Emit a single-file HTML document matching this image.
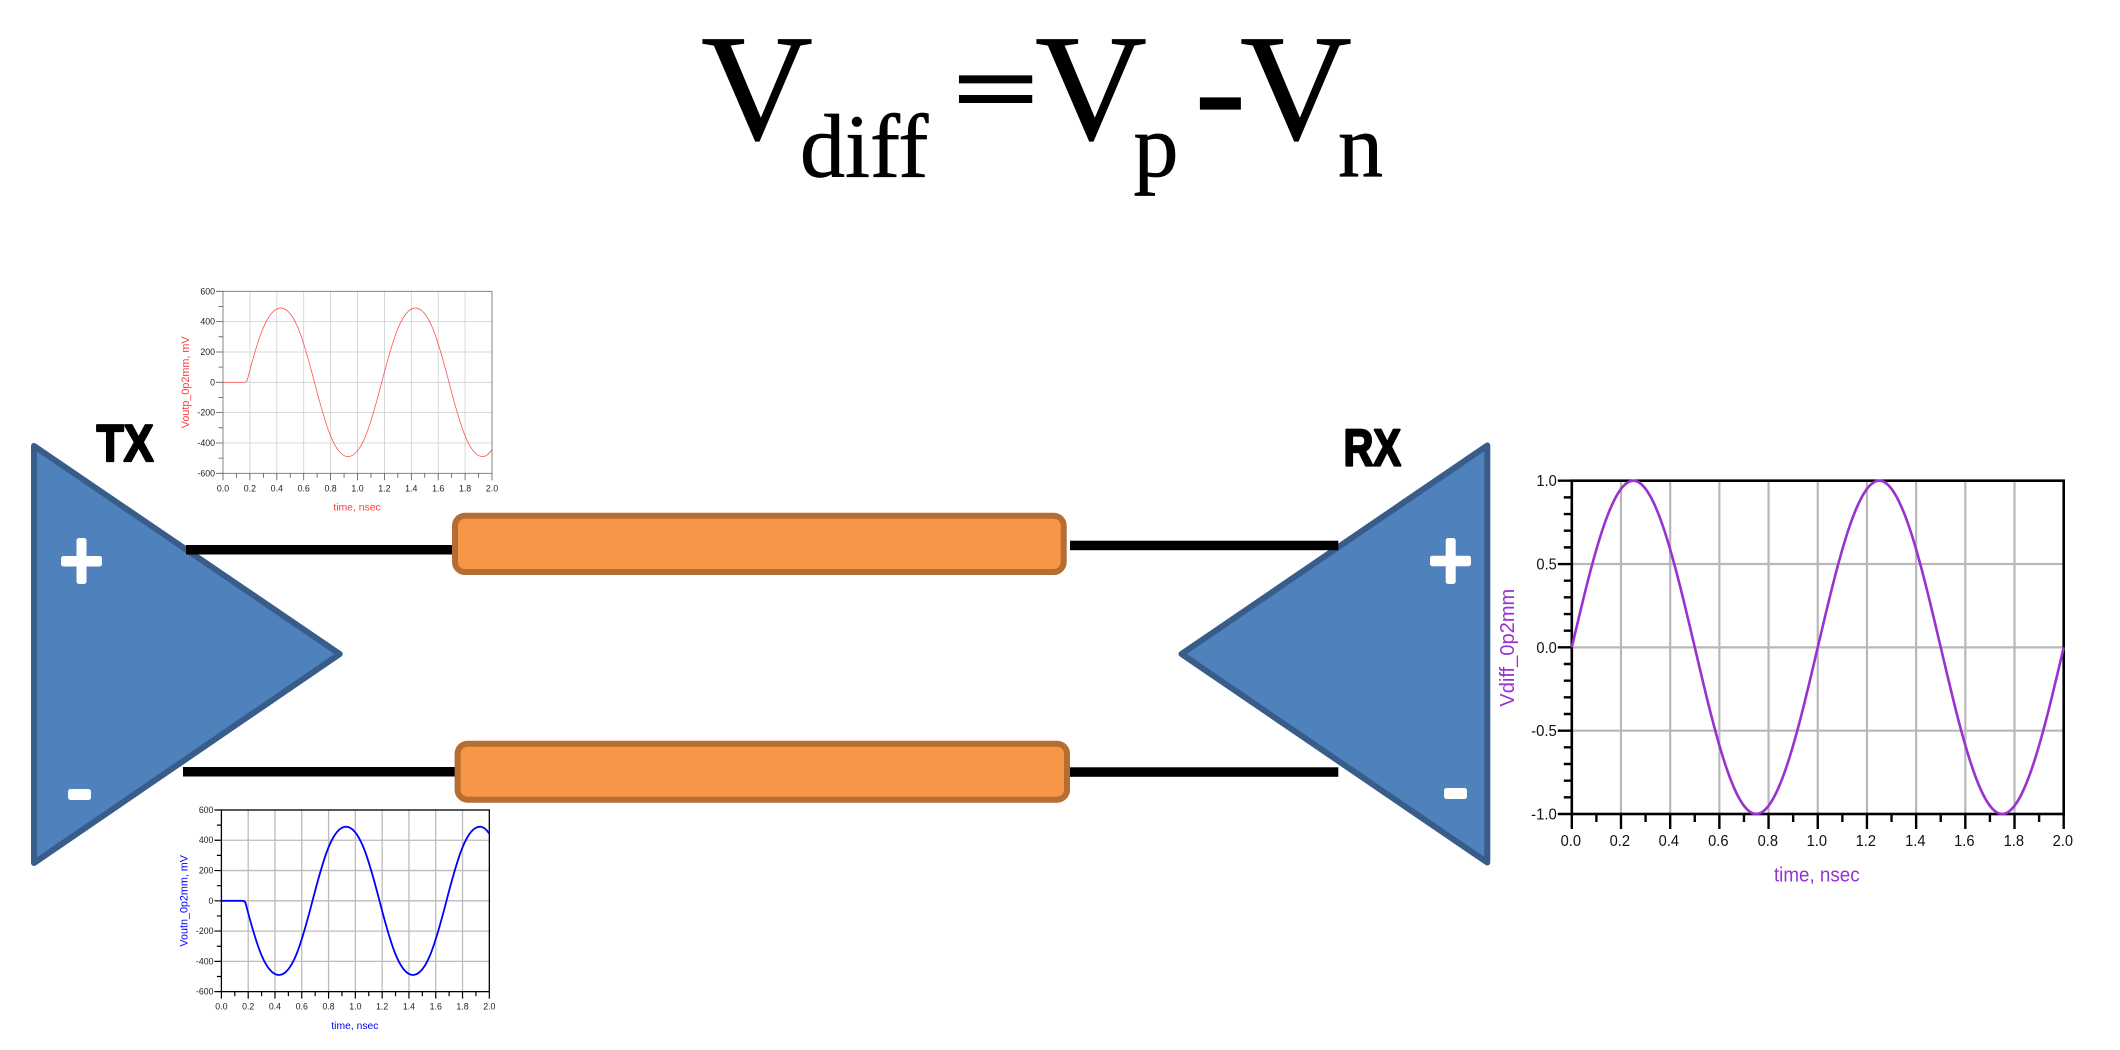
<!DOCTYPE html>
<html><head><meta charset="utf-8"><title>Vdiff</title>
<style>html,body{margin:0;padding:0;background:#fff;width:2120px;height:1050px;overflow:hidden}svg{display:block}
.s{font-family:"Liberation Serif",serif;fill:#000;stroke:#000;stroke-width:.7}
.a{font-family:"Liberation Sans",sans-serif}
.tx{font-family:"Liberation Sans",sans-serif;font-weight:bold;font-size:52px;fill:#000;stroke:#000;stroke-width:2.2;stroke-linejoin:round}
</style></head><body>
<svg width="2120" height="1050" viewBox="0 0 2120 1050" xmlns="http://www.w3.org/2000/svg">
<defs>
<path id="xM" d="M0,182v7M26.9,182v7M53.8,182v7M80.7,182v7M107.6,182v7M134.5,182v7M161.4,182v7M188.3,182v7M215.2,182v7M242.1,182v7M269,182v7M13.45,182v4.5M40.35,182v4.5M67.25,182v4.5M94.15,182v4.5M121.05,182v4.5M147.95,182v4.5M174.85,182v4.5M201.75,182v4.5M228.65,182v4.5M255.55,182v4.5M0,0h-7M0,30.33h-7M0,60.67h-7M0,91h-7M0,121.33h-7M0,151.67h-7M0,182h-7M0,15.17h-4.5M0,45.5h-4.5M0,75.83h-4.5M0,106.17h-4.5M0,136.5h-4.5M0,166.83h-4.5"/>
<path id="gr" d="M26.9,0V182M53.8,0V182M80.7,0V182M107.6,0V182M134.5,0V182M161.4,0V182M188.3,0V182M215.2,0V182M242.1,0V182M0,30.33H269M0,60.67H269M0,91H269M0,121.33H269M0,151.67H269"/>
<g id="lb" font-family="Liberation Sans, sans-serif" font-size="8.8" fill="#222">
<g text-anchor="end"><text x="-8" y="3">600</text><text x="-8" y="33.3">400</text><text x="-8" y="63.7">200</text><text x="-8" y="94">0</text><text x="-8" y="124.3">-200</text><text x="-8" y="154.7">-400</text><text x="-8" y="185">-600</text></g>
<g text-anchor="middle"><text x="0" y="200">0.0</text><text x="26.9" y="200">0.2</text><text x="53.8" y="200">0.4</text><text x="80.7" y="200">0.6</text><text x="107.6" y="200">0.8</text><text x="134.5" y="200">1.0</text><text x="161.4" y="200">1.2</text><text x="188.3" y="200">1.4</text><text x="215.2" y="200">1.6</text><text x="242.1" y="200">1.8</text><text x="269" y="200">2.0</text></g>
</g>
</defs>

<!-- equation -->
<text class="s" transform="translate(701,139) scale(1.02,1)" font-size="152">V</text>
<text class="s" x="800" y="176.7" font-size="90">diff</text>
<text class="s" transform="translate(954,121.6) scale(.95,.63)" font-size="155" style="stroke-width:5">=</text>
<text class="s" transform="translate(1035,139) scale(1.02,1)" font-size="152">V</text>
<text class="s" x="1133.5" y="176.7" font-size="90">p</text>
<text class="s" x="1194.5" y="140" font-size="155">-</text>
<text class="s" transform="translate(1240,139) scale(1.02,1)" font-size="152">V</text>
<text class="s" x="1338" y="176.7" font-size="90">n</text>

<!-- triangles -->
<polygon points="34,446 34,863 339.7,654" fill="#4f81bd" stroke="#385d8a" stroke-width="6" stroke-linejoin="round"/>
<polygon points="1487.3,445.5 1487.3,862.5 1181.5,654" fill="#4f81bd" stroke="#385d8a" stroke-width="6" stroke-linejoin="round"/>

<!-- signs -->
<rect x="61" y="556" width="41" height="10.5" rx="2.5" fill="#fff"/><rect x="76.5" y="538" width="10" height="46" rx="2.5" fill="#fff"/>
<rect x="68" y="789" width="23" height="11" rx="2.5" fill="#fff"/>
<rect x="1430" y="555.7" width="41" height="10.5" rx="2.5" fill="#fff"/><rect x="1445.7" y="538" width="10" height="46" rx="2.5" fill="#fff"/>
<rect x="1444" y="788" width="23" height="11" rx="2.5" fill="#fff"/>

<!-- wires -->
<rect x="186" y="545" width="270" height="9.5" fill="#000"/>
<rect x="183" y="767" width="275" height="9.5" fill="#000"/>
<rect x="1070" y="540.7" width="268.3" height="9.5" fill="#000"/>
<rect x="1066" y="767.3" width="272.3" height="9.5" fill="#000"/>

<!-- line boxes -->
<rect x="455" y="515.7" width="608.7" height="56.3" rx="10" fill="#f79646" stroke="#b66d31" stroke-width="6"/>
<rect x="457.6" y="743.7" width="609.4" height="56" rx="10" fill="#f79646" stroke="#b66d31" stroke-width="6"/>

<!-- labels -->
<text class="tx" x="96.5" y="461" textLength="57" lengthAdjust="spacingAndGlyphs">TX</text>
<text class="tx" x="1343.5" y="465.5" textLength="57.5" lengthAdjust="spacingAndGlyphs">RX</text>

<!-- chart 1 -->
<g transform="translate(223,291.3)">
<use href="#gr" fill="none" stroke="#cfcfcf" stroke-width="0.8"/>
<rect x="0" y="0" width="269" height="182" fill="none" stroke="#666" stroke-width="0.8"/>
<use href="#xM" fill="none" stroke="#555" stroke-width="0.8"/>
<use href="#lb"/>
<path fill="none" stroke="#ff3b3b" stroke-width="0.7" d="M0,91H21Q23.2,91 24.2,89c10.97,-42.35 20.18,-72.3 33.63,-72.3c13.45,0 22.66,31.95 33.63,74.3c10.97,42.35 20.18,74.3 33.63,74.3c13.45,0 22.66,-31.95 33.63,-74.3c10.97,-42.35 20.18,-74.3 33.63,-74.3c13.45,0 22.66,31.95 33.63,74.3c10.97,42.35 20.18,74.3 33.63,74.3q4.7,0 9.4,-7.1"/>
<text class="a" x="134" y="219.4" font-size="10.4" fill="#ff3b3b" text-anchor="middle">time, nsec</text>
<text class="a" transform="translate(-34,91) rotate(-90)" font-size="10.8" fill="#ff3b3b" text-anchor="middle">Voutp_0p2mm, mV</text>
</g>

<!-- chart 2 -->
<g transform="translate(221.4,810) scale(.996,.998)">
<use href="#gr" fill="none" stroke="#bcbcbc" stroke-width="1.3"/>
<rect x="0" y="0" width="269" height="182" fill="none" stroke="#000" stroke-width="1.3"/>
<use href="#xM" fill="none" stroke="#000" stroke-width="1.2"/>
<use href="#lb"/>
<path fill="none" stroke="#0000ff" stroke-width="1.8" d="M0,91H21Q23.2,91 24.2,93c10.97,42.35 20.18,72.3 33.63,72.3c13.45,0 22.66,-31.95 33.63,-74.3c10.97,-42.35 20.18,-74.3 33.63,-74.3c13.45,0 22.66,31.95 33.63,74.3c10.97,42.35 20.18,74.3 33.63,74.3c13.45,0 22.66,-31.95 33.63,-74.3c10.97,-42.35 20.18,-74.3 33.63,-74.3q4.7,0 9.4,7.1"/>
<text class="a" x="134" y="219.4" font-size="10.4" fill="#0000ff" text-anchor="middle">time, nsec</text>
<text class="a" transform="translate(-34,91) rotate(-90)" font-size="10.8" fill="#0000ff" text-anchor="middle">Voutn_0p2mm, mV</text>
</g>

<!-- chart 3 -->
<g transform="translate(1571.8,480.7)">
<path fill="none" stroke="#b8b8b8" stroke-width="2.2" d="M49.19,0V333.3M98.38,0V333.3M147.57,0V333.3M196.76,0V333.3M245.95,0V333.3M295.14,0V333.3M344.33,0V333.3M393.52,0V333.3M442.71,0V333.3M0,83.33H491.9M0,166.65H491.9M0,250H491.9"/>
<rect x="0" y="0" width="491.9" height="333.3" fill="none" stroke="#000" stroke-width="2.6"/>
<path fill="none" stroke="#000" stroke-width="2.4" d="M0,333.3v15M49.19,333.3v15M98.38,333.3v15M147.57,333.3v15M196.76,333.3v15M245.95,333.3v15M295.14,333.3v15M344.33,333.3v15M393.52,333.3v15M442.71,333.3v15M491.9,333.3v15M24.6,333.3v8M73.79,333.3v8M122.98,333.3v8M172.17,333.3v8M221.36,333.3v8M270.55,333.3v8M319.74,333.3v8M368.93,333.3v8M418.12,333.3v8M467.31,333.3v8M0,0h-14M0,83.33h-14M0,166.65h-14M0,250h-14M0,333.3h-14M0,16.67h-8M0,33.33h-8M0,50h-8M0,66.67h-8M0,100h-8M0,116.66h-8M0,133.32h-8M0,150h-8M0,183.3h-8M0,200h-8M0,216.6h-8M0,233.3h-8M0,266.6h-8M0,283.3h-8M0,300h-8M0,316.6h-8"/>
<g font-family="Liberation Sans, sans-serif" font-size="15.7" fill="#111">
<g text-anchor="end"><text x="-15" y="5.5" textLength="20.4" lengthAdjust="spacingAndGlyphs">1.0</text><text x="-15" y="88.8" textLength="20.4" lengthAdjust="spacingAndGlyphs">0.5</text><text x="-15" y="172.2" textLength="20.4" lengthAdjust="spacingAndGlyphs">0.0</text><text x="-15" y="255.5" textLength="25.7" lengthAdjust="spacingAndGlyphs">-0.5</text><text x="-15" y="338.8" textLength="25.7" lengthAdjust="spacingAndGlyphs">-1.0</text></g>
<g text-anchor="middle"><text x="-1" y="365.3" textLength="20.4" lengthAdjust="spacingAndGlyphs">0.0</text><text x="48" y="365.3" textLength="20.4" lengthAdjust="spacingAndGlyphs">0.2</text><text x="97" y="365.3" textLength="20.4" lengthAdjust="spacingAndGlyphs">0.4</text><text x="146.5" y="365.3" textLength="20.4" lengthAdjust="spacingAndGlyphs">0.6</text><text x="196" y="365.3" textLength="20.4" lengthAdjust="spacingAndGlyphs">0.8</text><text x="245" y="365.3" textLength="20.4" lengthAdjust="spacingAndGlyphs">1.0</text><text x="294" y="365.3" textLength="20.4" lengthAdjust="spacingAndGlyphs">1.2</text><text x="343.5" y="365.3" textLength="20.4" lengthAdjust="spacingAndGlyphs">1.4</text><text x="392.5" y="365.3" textLength="20.4" lengthAdjust="spacingAndGlyphs">1.6</text><text x="442" y="365.3" textLength="20.4" lengthAdjust="spacingAndGlyphs">1.8</text><text x="491" y="365.3" textLength="20.4" lengthAdjust="spacingAndGlyphs">2.0</text></g>
</g>
<path fill="none" stroke="#9a32cd" stroke-width="2.6" d="M0,166.65c20.05,-85.4 39.24,-166.65 61.49,-166.65c22.25,0 41.44,81.25 61.49,166.65c20.05,85.4 39.24,166.65 61.49,166.65c22.25,0 41.44,-81.25 61.49,-166.65c20.05,-85.4 39.24,-166.65 61.49,-166.65c22.25,0 41.44,81.25 61.49,166.65c20.05,85.4 39.24,166.65 61.49,166.65c22.25,0 41.44,-81.25 61.49,-166.65"/>
<text class="a" x="245" y="401" font-size="20" fill="#9a32cd" text-anchor="middle" textLength="85.7" lengthAdjust="spacingAndGlyphs">time, nsec</text>
<text class="a" transform="translate(-58,167) rotate(-90)" font-size="20" fill="#9a32cd" text-anchor="middle" textLength="118" lengthAdjust="spacingAndGlyphs">Vdiff_0p2mm</text>
</g>
</svg>
</body></html>
